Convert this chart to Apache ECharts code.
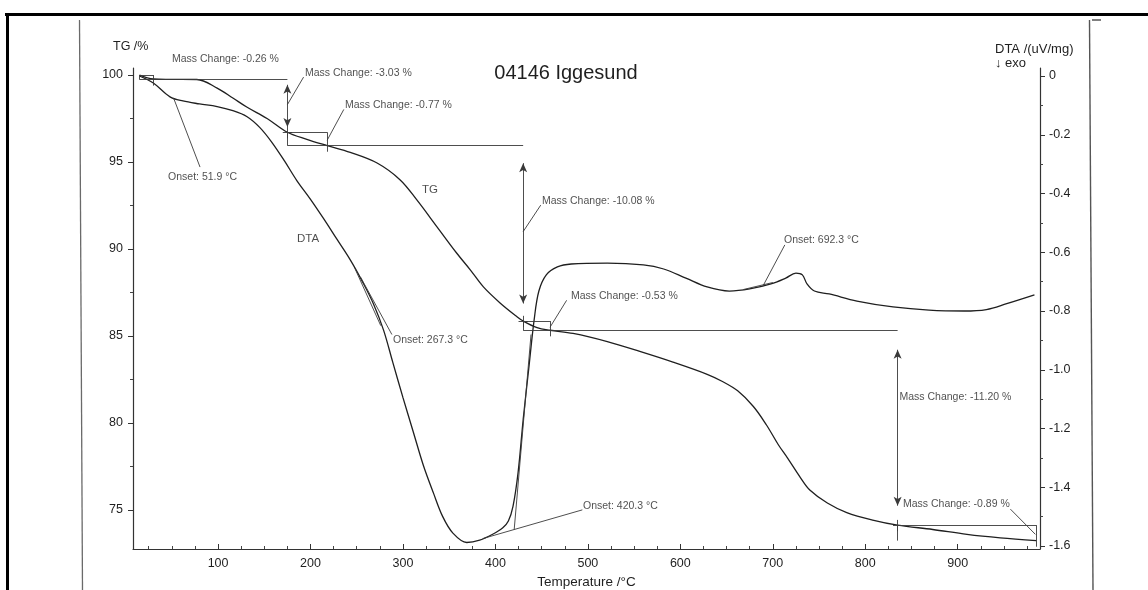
<!DOCTYPE html>
<html>
<head>
<meta charset="utf-8">
<script src="https://cdn.jsdelivr.net/npm/echarts@6/dist/echarts.min.js"></script>
<style>
  html, body { margin: 0; padding: 0; background: #fff; }
  #chart { width: 1148px; height: 590px; }
</style>
</head>
<body>
<div id="chart"></div>
<script>
// ---- measured data ----------------------------------------------------
// TG trace: temperature (°C) and residual mass (%)
const tgTemp = [15, 30, 48, 77, 99, 116, 131, 153, 175, 196, 218, 243, 272, 297, 315,
  337, 358, 373, 387, 405, 423, 430, 445, 459, 484, 521, 557, 592, 629, 645, 662, 679,
  693, 706, 716, 730, 740, 759, 780, 808, 835, 873, 910, 946, 985];
const tgMass = [100.0, 99.77, 99.75, 99.74, 99.25, 98.68, 98.16, 97.5, 96.71, 96.3, 95.94,
  95.55, 94.94, 93.97, 92.82, 91.26, 89.77, 88.79, 87.82, 86.9, 86.12, 85.86, 85.48, 85.33,
  85.15, 84.68, 84.1, 83.5, 82.8, 82.4, 81.85, 80.95, 79.9, 78.75, 77.98, 76.85, 76.15,
  75.4, 74.85, 74.42, 74.13, 73.88, 73.6, 73.4, 73.24];

// DTA trace: temperature (°C) and signal (uV/mg), exo down
const dtaTemp = [15, 30, 48, 62, 80, 99, 116, 131, 145, 158, 172, 185, 200, 214, 228, 243,
  257, 268, 279, 289, 300, 311, 322, 333, 343, 354, 369, 383, 397, 408, 414, 419, 424.5,
  430, 436, 442, 447, 455, 467, 482, 521, 560, 582, 606, 629, 653, 675, 698, 714, 725,
  732, 737, 745, 761, 791, 830, 869, 907, 931, 953, 983];
const dtaSignal = [0.0, -0.024, -0.071, -0.085, -0.095, -0.104, -0.118, -0.138, -0.175,
  -0.225, -0.29, -0.355, -0.42, -0.485, -0.553, -0.626, -0.705, -0.775, -0.865, -0.975,
  -1.095, -1.21, -1.325, -1.42, -1.5, -1.556, -1.588, -1.58, -1.56, -1.538, -1.515, -1.465,
  -1.35, -1.17, -0.997, -0.827, -0.732, -0.677, -0.65, -0.64, -0.637, -0.643, -0.657,
  -0.688, -0.718, -0.732, -0.725, -0.708, -0.688, -0.671, -0.677, -0.708, -0.732, -0.742,
  -0.766, -0.786, -0.797, -0.8, -0.795, -0.775, -0.745];

// mass-loss steps (%) and the temperatures bounding each step (°C)
const massChanges = [-0.26, -3.03, -0.77, -10.08, -0.53, -11.20, -0.89];
const stepTemps = [15, 30, 175, 218, 430, 459, 835, 985];
const startMass = 100;

// DTA onset temperatures (°C)
const onsets = [51.9, 267.3, 420.3, 692.3];

// axis tick labels
const tempTicks = [100, 200, 300, 400, 500, 600, 700, 800, 900];
const tempMinorTicks = [25, 50, 75, 125, 150, 175, 225, 250, 275, 325, 350, 375, 425, 450,
  475, 525, 550, 575, 625, 650, 675, 725, 750, 775, 825, 850, 875, 925, 950, 975];
const tgTicks = [75, 80, 85, 90, 95, 100];
const tgMinorTicks = [77.5, 82.5, 87.5, 92.5, 97.5];
const dtaTicks = [0, -0.2, -0.4, -0.6, -0.8, -1.0, -1.2, -1.4, -1.6];
const dtaMinorTicks = [-0.1, -0.3, -0.5, -0.7, -0.9, -1.1, -1.3, -1.5];

// ---- chart ------------------------------------------------------------
const FONT = '"Liberation Sans", Arial, Helvetica, sans-serif';
const INK = '#1f1f1f';
const ANNO = '#3a3a3a';

const X_RANGE = [8, 989];
const TG_RANGE = [72.7586, 100.4023];
const DTA_RANGE = [-1.6102, 0.02725];
const PLOT = { left: 133, right: 108, top: 68, bottom: 41, outerBoundsMode: 'none' };

// cumulative mass levels after each step
const levels = massChanges.reduce((acc, d) => {
  acc.push(Math.round((acc[acc.length - 1] + d) * 100) / 100);
  return acc;
}, [startMass]);

const seg = (p, q, s0, s1) => [
  { coord: p, symbol: s0 || 'none' },
  { coord: q, symbol: s1 || 'none' }
];

// step construction: boxes for small steps, double arrows for large ones
const tgLines = [];
massChanges.forEach((d, i) => {
  const a = levels[i], b = levels[i + 1];
  const t0 = stepTemps[i], t1 = stepTemps[i + 1];
  if (Math.abs(d) < 1) {
    tgLines.push(seg([t0, a], [t1, a]));
    tgLines.push(seg([t0, a], [t0, b]));
    tgLines.push(seg([t1, a], [t1, b - 0.35]));
  } else {
    const from = i > 0 ? stepTemps[i - 1] : t0;
    const gap = Math.min(1.15, 0.1 * Math.abs(d));
    tgLines.push(seg([from, a], [t1, a]));
    tgLines.push(seg([t1, a - gap], [t1, b + gap], 'arrow', 'arrow'));
    tgLines.push(seg([t1, b + 0.3], [t1, b - 0.35]));
    tgLines.push(seg([t1 - 5, b], [t1 + 5, b]));
  }
});

// label anchors (left edge, middle) and leader lines for the step labels
const massLabelAt = [[50.2, 100.92], [194, 100.11], [237.3, 98.28], [450.4, 92.76],
  [481.7, 87.3], [837, 81.49], [840.8, 75.34]];
const massLeaders = [[30, 100, 49, 100.72], [175, 98.3, 192.5, 99.88],
  [218, 96.25, 236, 98.02], [430, 91.0, 449, 92.52], [459, 85.5, 477, 87.05],
  null, [984, 73.6, 957, 75.05]];
massLeaders.forEach(l => { if (l) tgLines.push(seg([l[0], l[1]], [l[2], l[3]])); });

// onset constructions on the DTA trace
const onsetLabelAt = [[45.9, -0.344], [289.2, -0.899], [494.7, -1.464], [712.1, -0.558]];
const onsetLines = [
  [51.9, -0.075, 80.5, -0.31],
  [254, -0.684, 288, -0.88], [248, -0.655, 276, -0.85],
  [386, -1.575, 494, -1.477], [420.3, -1.544, 438.5, -0.88],
  [689, -0.717, 713, -0.575], [668, -0.727, 700, -0.703]
];
const dtaLines = onsetLines.map(l => seg([l[0], l[1]], [l[2], l[3]]));

const textItem = (pos, text, size) => ({
  value: pos,
  label: {
    show: true, formatter: text, position: 'right', distance: 0,
    fontSize: size || 10.5, color: INK, fontFamily: FONT
  }
});

const tgTexts = massChanges.map((d, i) =>
  textItem(massLabelAt[i], 'Mass Change: ' + d.toFixed(2) + ' %'));
tgTexts.push(textItem([320.6, 93.39], 'TG', 11.5));
const dtaTexts = onsets.map((t, i) =>
  textItem(onsetLabelAt[i], 'Onset: ' + t.toFixed(1) + ' \u00B0C'));
dtaTexts.push(textItem([185.4, -0.555], 'DTA', 11.5));

const markLineBase = {
  silent: true,
  symbol: ['none', 'none'],
  symbolSize: [6, 9],
  label: { show: false },
  emphasis: { disabled: true },
  lineStyle: { type: 'solid', color: ANNO, width: 0.9 },
  animation: false
};

// tick-only axes (minor ticks) living on a twin grid of the same size
const tickAxis = (extra) => Object.assign({
  type: 'value',
  gridIndex: 1,
  axisLabel: { show: false },
  splitLine: { show: false },
  axisLine: { show: false, onZero: false }
}, extra);

const chart = echarts.init(document.getElementById('chart'), null, { renderer: 'canvas' });

chart.setOption({
  animation: false,
  backgroundColor: '#ffffff',
  textStyle: { fontFamily: FONT },
  grid: [Object.assign({}, PLOT), Object.assign({}, PLOT)],
  xAxis: [
    {
      type: 'value', gridIndex: 0, min: X_RANGE[0], max: X_RANGE[1], position: 'bottom',
      axisLine: { show: true, onZero: false, lineStyle: { color: '#333', width: 1.2 } },
      axisTick: { show: true, inside: true, length: 5, customValues: tempTicks,
        lineStyle: { color: '#333' } },
      axisLabel: { customValues: tempTicks, margin: 8, fontSize: 12.5, color: INK,
        fontFamily: FONT },
      splitLine: { show: false },
      name: 'Temperature /\u00B0C', nameLocation: 'middle', nameGap: 25,
      nameTextStyle: { fontSize: 13.5, color: INK, fontFamily: FONT }
    },
    tickAxis({
      min: X_RANGE[0], max: X_RANGE[1], position: 'bottom',
      axisTick: { show: true, inside: true, length: 3, customValues: tempMinorTicks,
        lineStyle: { color: '#444' } }
    })
  ],
  yAxis: [
    {
      type: 'value', gridIndex: 0, min: TG_RANGE[0], max: TG_RANGE[1], position: 'left',
      axisLine: { show: true, onZero: false, lineStyle: { color: '#333', width: 1.2 } },
      axisTick: { show: true, length: 5, customValues: tgTicks, lineStyle: { color: '#333' } },
      axisLabel: { customValues: tgTicks, margin: 10, fontSize: 12.5, color: INK,
        fontFamily: FONT },
      splitLine: { show: false }
    },
    {
      type: 'value', gridIndex: 0, min: DTA_RANGE[0], max: DTA_RANGE[1], position: 'right',
      axisLine: { show: true, onZero: false, lineStyle: { color: '#333', width: 1.2 } },
      axisTick: { show: true, length: 5, customValues: dtaTicks, lineStyle: { color: '#333' } },
      axisLabel: {
        customValues: dtaTicks, margin: 9, fontSize: 12.5, color: INK, fontFamily: FONT,
        formatter: v => (Math.abs(v) < 1e-9 ? '0' : v.toFixed(1))
      },
      splitLine: { show: false }
    },
    tickAxis({
      min: TG_RANGE[0], max: TG_RANGE[1], position: 'left',
      axisTick: { show: true, length: 3, customValues: tgMinorTicks, lineStyle: { color: '#444' } }
    }),
    tickAxis({
      min: DTA_RANGE[0], max: DTA_RANGE[1], position: 'right',
      axisTick: { show: true, length: 3, customValues: dtaMinorTicks, lineStyle: { color: '#444' } }
    })
  ],
  series: [
    {
      name: 'TG', type: 'line', xAxisIndex: 0, yAxisIndex: 0,
      data: tgTemp.map((t, i) => [t, tgMass[i]]),
      showSymbol: false, symbol: 'none', smooth: 0.35, silent: true, clip: false,
      lineStyle: { color: INK, width: 1.3 },
      markLine: Object.assign({}, markLineBase, { data: tgLines })
    },
    {
      name: 'DTA', type: 'line', xAxisIndex: 0, yAxisIndex: 1,
      data: dtaTemp.map((t, i) => [t, dtaSignal[i]]),
      showSymbol: false, symbol: 'none', smooth: 0.35, silent: true, clip: false,
      lineStyle: { color: INK, width: 1.3 },
      markLine: Object.assign({}, markLineBase, { data: dtaLines })
    },
    {
      type: 'scatter', xAxisIndex: 0, yAxisIndex: 0, symbolSize: 0, silent: true, clip: false,
      data: tgTexts
    },
    {
      type: 'scatter', xAxisIndex: 0, yAxisIndex: 1, symbolSize: 0, silent: true, clip: false,
      data: dtaTexts
    }
  ],
  graphic: [
    // page frame and sheet edges
    { type: 'line', silent: true, shape: { x1: 5, y1: 14.5, x2: 1148, y2: 14.5 },
      style: { stroke: '#000', lineWidth: 3 } },
    { type: 'line', silent: true, shape: { x1: 7.5, y1: 13, x2: 7.5, y2: 590 },
      style: { stroke: '#000', lineWidth: 3 } },
    { type: 'line', silent: true, shape: { x1: 79.5, y1: 20, x2: 82.5, y2: 590 },
      style: { stroke: '#6a6a6a', lineWidth: 1.3 } },
    { type: 'line', silent: true, shape: { x1: 1089.5, y1: 20, x2: 1093, y2: 590 },
      style: { stroke: '#555', lineWidth: 1.4 } },
    { type: 'line', silent: true, shape: { x1: 1092, y1: 20, x2: 1101, y2: 20 },
      style: { stroke: '#555', lineWidth: 1.5 } },
    // title and axis captions
    { type: 'text', silent: true, x: 566, y: 73,
      style: { text: '04146 Iggesund', font: '20px ' + FONT, fill: INK,
        textAlign: 'center', textVerticalAlign: 'middle' } },
    { type: 'text', silent: true, x: 113, y: 47,
      style: { text: 'TG /%', font: '12.5px ' + FONT, fill: INK,
        textAlign: 'left', textVerticalAlign: 'middle' } },
    { type: 'text', silent: true, x: 995, y: 49,
      style: { text: 'DTA /(uV/mg)', font: '13px ' + FONT, fill: INK,
        textAlign: 'left', textVerticalAlign: 'middle' } },
    { type: 'text', silent: true, x: 995, y: 63,
      style: { text: '\u2193 exo', font: '13px ' + FONT, fill: INK,
        textAlign: 'left', textVerticalAlign: 'middle' } }
  ]
});
</script>
</body>
</html>
